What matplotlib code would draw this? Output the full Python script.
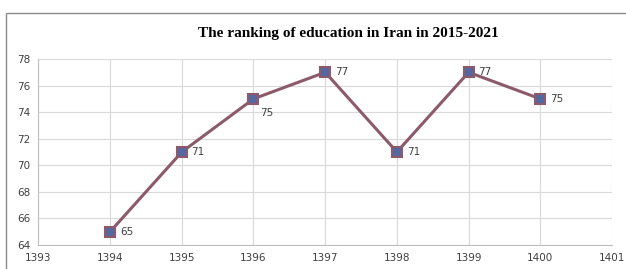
import matplotlib
matplotlib.use("Agg")
import matplotlib.pyplot as plt
from matplotlib.patches import Rectangle

years = [1394, 1395, 1396, 1397, 1398, 1399, 1400]
ranks = [65, 71, 75, 77, 71, 77, 75]
xticks = [1393, 1394, 1395, 1396, 1397, 1398, 1399, 1400, 1401]
yticks = [64, 66, 68, 70, 72, 74, 76, 78]
title = "The ranking of education in Iran in 2015-2021"

fig = plt.figure(figsize=(6.26, 2.69), dpi=100)
fig.patch.set_facecolor("white")
fig.patches.append(Rectangle((6/626, -0.1), 1.2, (269-13)/269 + 0.1,
                             transform=fig.transFigure, fill=False,
                             edgecolor="#8a8a8a", linewidth=1.0))

ax = fig.add_axes([38.4/626, 24/269, (612-38.4)/626, (245-59)/269])
ax.set_xlim(1393, 1401)
ax.set_ylim(64, 78)
ax.set_xticks(xticks)
ax.set_yticks(yticks)
ax.grid(True, color="#d9d9d9", linewidth=0.8)
ax.set_axisbelow(True)
for s in ["top", "right"]:
    ax.spines[s].set_visible(False)
for s in ["left", "bottom"]:
    ax.spines[s].set_color("#c0c0c0")
    ax.spines[s].set_linewidth(0.8)
ax.tick_params(length=0, labelsize=7.5, labelcolor="#404040", pad=6)

ax.plot(years, ranks, color="#8c5a6b", linewidth=2.2, marker="s",
        markersize=7.5, markerfacecolor="#55679f", markeredgecolor="#8c5a6b",
        markeredgewidth=1.5, zorder=3, clip_on=False)

for x, y in zip(years, ranks):
    if x == 1396:
        ax.annotate(str(y), (x, y), xytext=(5, -10), textcoords="offset points",
                    fontsize=7.5, color="#404040", va="center")
    else:
        ax.annotate(str(y), (x, y), xytext=(7, 0), textcoords="offset points",
                    fontsize=7.5, color="#404040", va="center")

fig.text(348/626, 1 - 33/269, title, ha="center", va="center",
         fontfamily="Liberation Serif", fontweight="bold", fontsize=11)

fig.savefig("out.png", dpi=100)
